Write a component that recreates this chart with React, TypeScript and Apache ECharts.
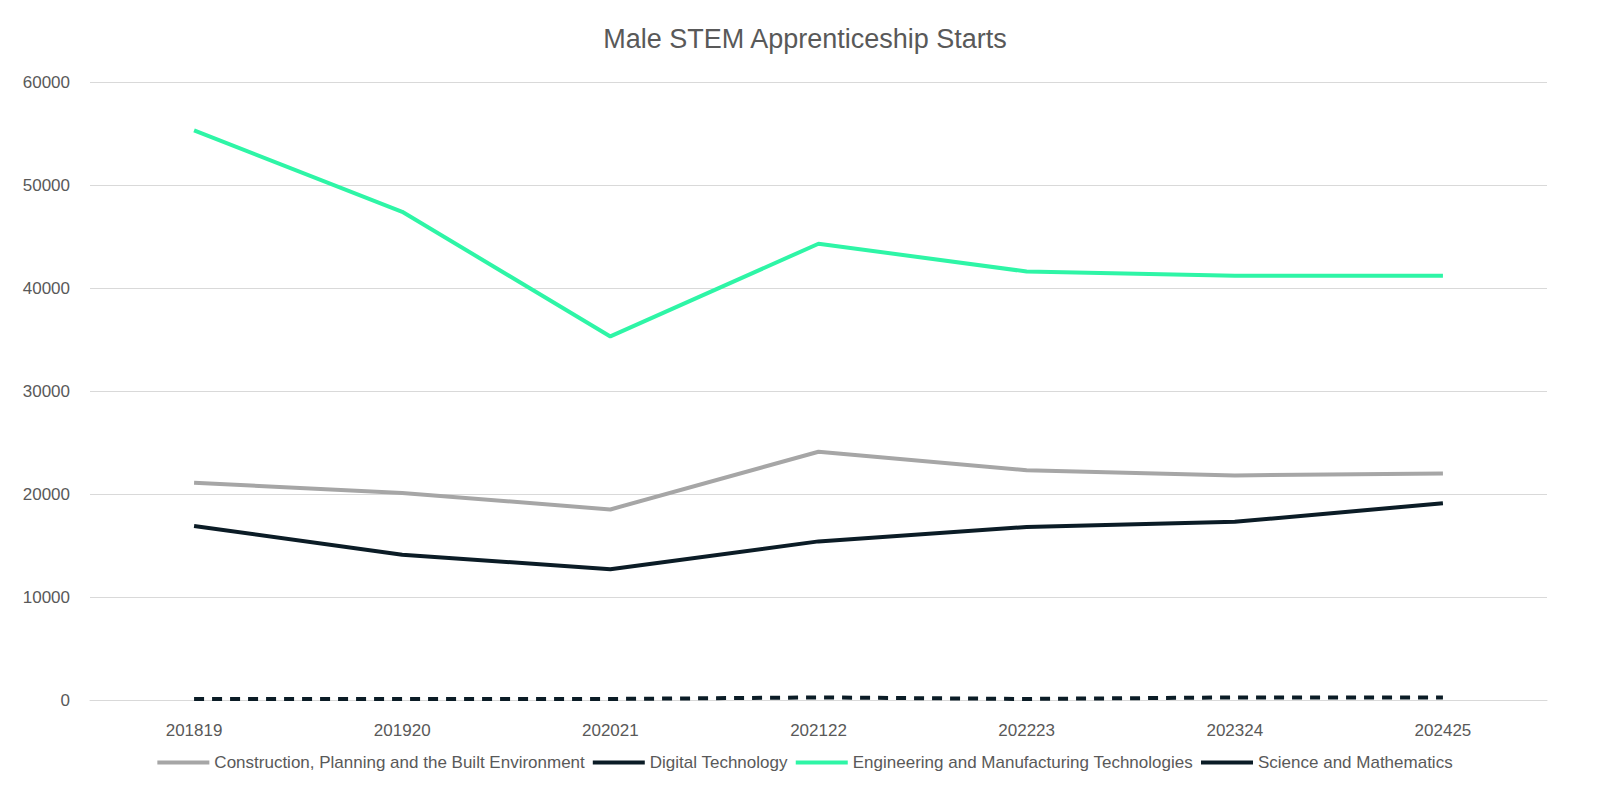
import { useEffect, useRef } from 'react';
import * as echarts from 'echarts';

const years = ['201819', '201920', '202021', '202122', '202223', '202324', '202425'];
const construction = [21100, 20100, 18500, 24100, 22300, 21800, 22000];
const digital = [16900, 14100, 12700, 15400, 16800, 17300, 19100];
const engineering = [55300, 47400, 35300, 44300, 41600, 41200, 41200];
const science = [100, 100, 100, 250, 100, 250, 250];

export default function App() {
  const chartRef = useRef<HTMLDivElement>(null);

  useEffect(() => {
    if (!chartRef.current) return;
    const chart = echarts.init(chartRef.current, undefined, { renderer: 'svg' });
    const font = 'Liberation Sans, Arial, sans-serif';
    const line = (name: string, data: number[], color: string, dashed = false) => ({
      name,
      type: 'line',
      data,
      symbol: 'none',
      lineStyle: { color, width: 4, type: dashed ? [10, 8] : 'solid' },
      itemStyle: { color },
    });
    chart.setOption({
      animation: false,
      textStyle: { fontFamily: font },
      title: {
        text: 'Male STEM Apprenticeship Starts',
        left: 'center',
        top: 12,
        textStyle: { color: '#595959', fontSize: 27, fontWeight: 'normal', fontFamily: font },
      },
      grid: { left: 82, right: 55, top: 74, bottom: 88 },
      xAxis: {
        type: 'category',
        data: years,
        axisLine: { lineStyle: { color: '#d9d9d9' } },
        axisTick: { show: false },
        axisLabel: { color: '#595959', fontSize: 17, margin: 22 },
      },
      yAxis: {
        type: 'value',
        min: 0,
        max: 60000,
        interval: 10000,
        axisLabel: { color: '#595959', fontSize: 17, margin: 20, formatter: (v: number) => String(v) },
        splitLine: { lineStyle: { color: '#d9d9d9' } },
      },
      legend: {
        bottom: 12,
        left: 'center',
        itemWidth: 52,
        itemHeight: 4,
        itemGap: 8,
        textStyle: { color: '#595959', fontSize: 17 },
        icon: 'rect',
      },
      series: [
        line('Construction, Planning and the Built Environment', construction, '#a6a6a6'),
        line('Digital Technology', digital, '#0b1c26'),
        line('Engineering and Manufacturing Technologies', engineering, '#2ef5a6'),
        line('Science and Mathematics', science, '#0b1c26', true),
      ],
    });
    return () => chart.dispose();
  }, []);

  return <div ref={chartRef} style={{ width: 1594, height: 780 }} />;
}
